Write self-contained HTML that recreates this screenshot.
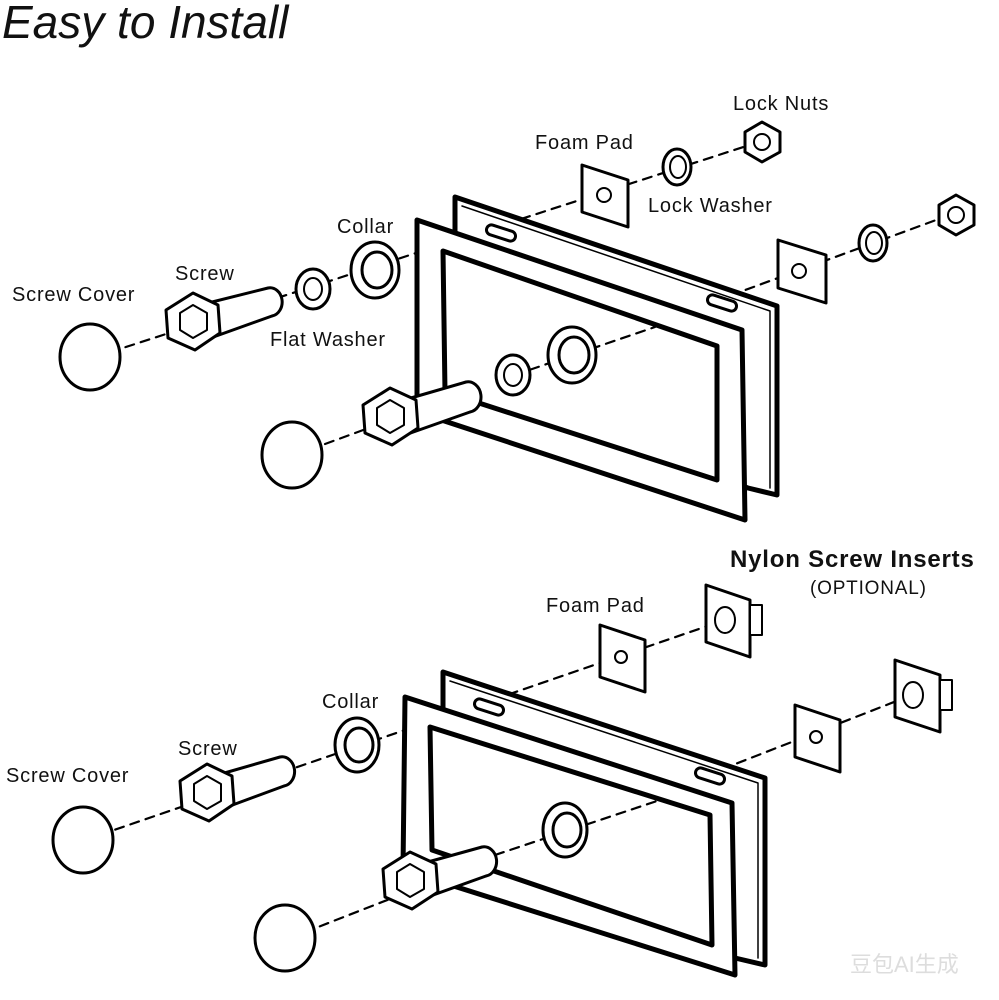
<!DOCTYPE html>
<html><head><meta charset="utf-8"><style>
html,body{margin:0;padding:0;background:#fff;}
svg{display:block;}
text{font-family:"Liberation Sans",sans-serif;fill:#111;}
</style></head><body>
<svg width="999" height="1000" viewBox="0 0 999 1000" xmlns="http://www.w3.org/2000/svg">
<g stroke="#000" fill="#fff" stroke-linejoin="round" stroke-linecap="round">
<text x="2" y="38" font-size="46" font-style="italic" stroke="none" fill="#111">Easy to Install</text>

<!-- TOP dashed lines -->
<g stroke-width="2.2" stroke-dasharray="9,7" fill="none">
<line x1="95" y1="357" x2="765" y2="140"/>
<line x1="295" y1="455" x2="958" y2="212"/>
</g>
<!-- top rear plate -->
<polygon points="455,197 777,306 777,495 748,488 455,385" stroke-width="5"/>
<polyline points="462,206 770,311 770,488" fill="none" stroke-width="1.5"/>
<rect x="486" y="228" width="30" height="10" rx="5" transform="rotate(18 501 233)" stroke-width="3"/>
<rect x="707" y="298" width="30" height="10" rx="5" transform="rotate(18 722 303)" stroke-width="3"/>
<!-- front frame -->
<polygon points="417,220 742,330 745,520 417,412" stroke-width="5"/>
<polygon points="443,251 717,346 717,480 445,392" stroke-width="5"/>
<g stroke-width="2.2" stroke-dasharray="9,7" fill="none"><line x1="500" y1="380" x2="655" y2="327"/></g>

<!-- top parts row 1 -->
<ellipse cx="90" cy="357" rx="30" ry="33" stroke-width="3"/>
<path d="M200,305 L268,288 A12,14 0 0 1 272,316 L205,340 Z" stroke-width="3"/>
<polygon points="193,293 218,305 220,333 195,350 168,338 166,310" stroke-width="3"/>
<polygon points="193,305 207,313 207,330 193,338 180,330 180,313" stroke-width="2"/>
<ellipse cx="313" cy="289" rx="17" ry="20" stroke-width="3"/><ellipse cx="313" cy="289" rx="9" ry="11" stroke-width="2"/>
<ellipse cx="375" cy="270" rx="24" ry="28" stroke-width="3"/><ellipse cx="377" cy="270" rx="15" ry="18" stroke-width="3"/>
<polygon points="582,165 628,180 628,227 582,212" stroke-width="3"/><circle cx="604" cy="195" r="7" stroke-width="2"/>
<ellipse cx="677" cy="167" rx="14" ry="18" stroke-width="3"/><ellipse cx="678" cy="167" rx="8" ry="11" stroke-width="2"/>
<polygon points="762,122 780,132 780,152 762,162 745,152 745,132" stroke-width="3"/><circle cx="762" cy="142" r="8" stroke-width="2"/>
<!-- top parts row 2 -->
<ellipse cx="292" cy="455" rx="30" ry="33" stroke-width="3"/>
<path d="M397,402 L466,382 A12,14 0 0 1 470,412 L402,436 Z" stroke-width="3"/>
<polygon points="390,388 416,400 418,428 392,445 365,433 363,405" stroke-width="3"/>
<polygon points="390,400 404,408 404,425 390,433 377,425 377,408" stroke-width="2"/>
<ellipse cx="513" cy="375" rx="17" ry="20" stroke-width="3"/><ellipse cx="513" cy="375" rx="9" ry="11" stroke-width="2"/>
<ellipse cx="572" cy="355" rx="24" ry="28" stroke-width="3"/><ellipse cx="574" cy="355" rx="15" ry="18" stroke-width="3"/>
<polygon points="778,240 826,255 826,303 778,288" stroke-width="3"/><circle cx="799" cy="271" r="7" stroke-width="2"/>
<ellipse cx="873" cy="243" rx="14" ry="18" stroke-width="3"/><ellipse cx="874" cy="243" rx="8" ry="11" stroke-width="2"/>
<polygon points="956,195 974,205 974,225 956,235 939,225 939,205" stroke-width="3"/><circle cx="956" cy="215" r="8" stroke-width="2"/>

<!-- BOTTOM -->
<g stroke-width="2.2" stroke-dasharray="9,7" fill="none">
<line x1="85" y1="840" x2="725" y2="620"/>
<line x1="290" y1="938" x2="912" y2="695"/>
</g>
<polygon points="443,672 765,778 765,965 735,958 443,860" stroke-width="5"/>
<polyline points="450,681 758,783 758,958" fill="none" stroke-width="1.5"/>
<rect x="474" y="702" width="30" height="10" rx="5" transform="rotate(18 489 707)" stroke-width="3"/>
<rect x="695" y="771" width="30" height="10" rx="5" transform="rotate(18 710 776)" stroke-width="3"/>
<polygon points="405,697 732,803 735,975 403,870" stroke-width="5"/>
<polygon points="430,727 710,815 712,945 432,850" stroke-width="5"/>
<g stroke-width="2.2" stroke-dasharray="9,7" fill="none"><line x1="480" y1="860" x2="660" y2="800"/></g>

<ellipse cx="83" cy="840" rx="30" ry="33" stroke-width="3"/>
<path d="M214,776 L280,757 A12,14 0 0 1 284,786 L219,810 Z" stroke-width="3"/>
<polygon points="207,764 232,776 234,804 209,821 182,809 180,781" stroke-width="3"/>
<polygon points="207,776 221,784 221,801 207,809 194,801 194,784" stroke-width="2"/>
<ellipse cx="357" cy="745" rx="22" ry="27" stroke-width="3"/><ellipse cx="359" cy="745" rx="14" ry="17" stroke-width="3"/>
<polygon points="600,625 645,640 645,692 600,677" stroke-width="3"/><circle cx="621" cy="657" r="6" stroke-width="2"/>
<polygon points="706,585 750,600 750,657 706,642" stroke-width="3"/><rect x="750" y="605" width="12" height="30" stroke-width="2"/><ellipse cx="725" cy="620" rx="10" ry="13" stroke-width="2"/>

<ellipse cx="285" cy="938" rx="30" ry="33" stroke-width="3"/>
<path d="M417,865 L482,847 A12,14 0 0 1 486,876 L422,899 Z" stroke-width="3"/>
<polygon points="410,852 436,864 438,892 412,909 385,897 383,869" stroke-width="3"/>
<polygon points="410,864 424,872 424,889 410,897 397,889 397,872" stroke-width="2"/>
<ellipse cx="565" cy="830" rx="22" ry="27" stroke-width="3"/><ellipse cx="567" cy="830" rx="14" ry="17" stroke-width="3"/>
<polygon points="795,705 840,720 840,772 795,757" stroke-width="3"/><circle cx="816" cy="737" r="6" stroke-width="2"/>
<polygon points="895,660 940,675 940,732 895,717" stroke-width="3"/><rect x="940" y="680" width="12" height="30" stroke-width="2"/><ellipse cx="913" cy="695" rx="10" ry="13" stroke-width="2"/>
</g>

<g font-size="20" letter-spacing="0.8">
<text x="733" y="110">Lock Nuts</text>
<text x="535" y="149">Foam Pad</text>
<text x="648" y="212">Lock Washer</text>
<text x="337" y="233">Collar</text>
<text x="175" y="280">Screw</text>
<text x="12" y="301">Screw Cover</text>
<text x="270" y="346">Flat Washer</text>
<text x="546" y="612">Foam Pad</text>
<text x="322" y="708">Collar</text>
<text x="178" y="755">Screw</text>
<text x="6" y="782">Screw Cover</text>
</g>
<text x="730" y="567" font-size="24" font-weight="bold" letter-spacing="0.8">Nylon Screw Inserts</text>
<text x="810" y="594" font-size="19" letter-spacing="0.8">(OPTIONAL)</text>
<text x="850" y="972" font-size="22" style="font-family:'Liberation Sans','Noto Sans CJK SC',sans-serif;fill:#ddd">豆包AI生成</text>
</svg>
</body></html>
